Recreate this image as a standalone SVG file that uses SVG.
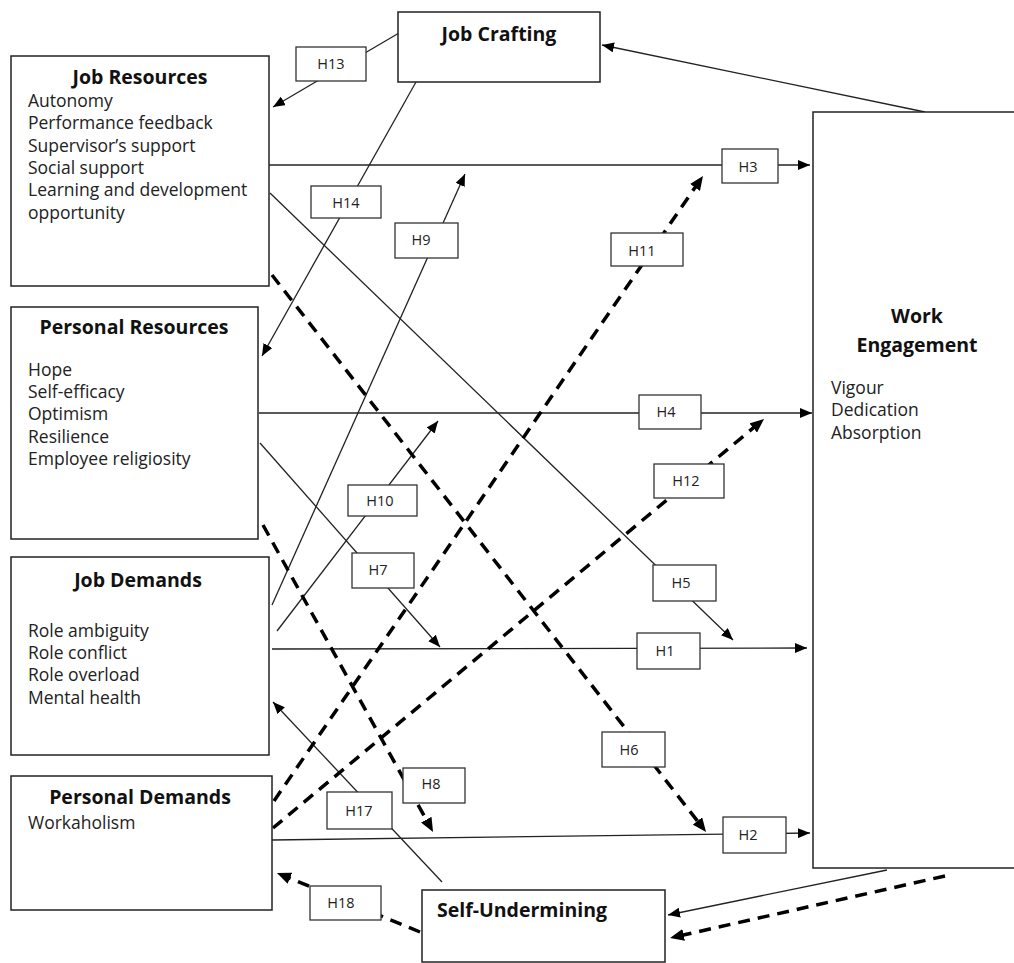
<svg xmlns="http://www.w3.org/2000/svg" width="1014" height="963" viewBox="0 0 1014 963">
<defs>
<marker id="ah" markerUnits="userSpaceOnUse" markerWidth="12" markerHeight="10" refX="12" refY="5" orient="auto"><path d="M0,0 L12,5 L0,10 z" fill="#000"/></marker>
<marker id="ahd" markerUnits="userSpaceOnUse" markerWidth="14" markerHeight="12" refX="4" refY="6" orient="auto"><path d="M0,0 L14,6 L0,12 z" fill="#000"/></marker>
<style>
.box{fill:#fff;stroke:#222;stroke-width:1.5}
.lbl{fill:#fff;stroke:#333;stroke-width:1.3}
.s{fill:none;stroke:#222;stroke-width:1.3;marker-end:url(#ah)}
.d{fill:none;stroke:#000;stroke-width:3.5;stroke-dasharray:12 8;marker-end:url(#ahd)}
.t{font-family:"Open Sans","Liberation Sans",sans-serif;font-size:17.5px;fill:#222}
.h{font-family:"Open Sans","Liberation Sans",sans-serif;font-size:19.5px;font-weight:bold;fill:#111}
.l{font-family:"Open Sans","Liberation Sans",sans-serif;font-size:14.5px;fill:#222;text-anchor:middle}
</style>
</defs>
<rect width="1014" height="963" fill="#fff"/>
<g id="connectors">
<line class="s" x1="399" y1="33" x2="273" y2="107"/>
<line class="s" x1="925" y1="112" x2="602" y2="45"/>
<line class="s" x1="416" y1="82" x2="262" y2="356"/>
<line class="s" x1="269" y1="165" x2="810" y2="165"/>
<line class="s" x1="270" y1="193" x2="733" y2="640"/>
<line class="s" x1="272" y1="605" x2="465" y2="174"/>
<line class="s" x1="277" y1="631" x2="438" y2="421"/>
<line class="s" x1="259" y1="413" x2="812" y2="413"/>
<line class="s" x1="260" y1="443" x2="440" y2="647"/>
<line class="s" x1="272" y1="649" x2="807" y2="648"/>
<line class="s" x1="272" y1="840" x2="810" y2="833"/>
<line class="s" x1="442" y1="882" x2="273" y2="702"/>
<line class="s" x1="887" y1="870" x2="668" y2="915"/>
<line class="d" x1="272" y1="275" x2="699.9" y2="824.1"/>
<line class="d" x1="263" y1="525" x2="428.2" y2="823.2"/>
<line class="d" x1="274" y1="801" x2="697.3" y2="184.2"/>
<line class="d" x1="273" y1="828" x2="756.3" y2="425.4"/>
<line class="d" x1="420" y1="932" x2="286.2" y2="876.8"/>
<line class="d" x1="945" y1="876" x2="679.8" y2="935.8"/>
</g>
<g id="labels">
<g id="lH13"><rect class="lbl" x="296" y="47" width="70" height="34"/><text class="l" x="331" y="69">H13</text></g>
<g id="lH14"><rect class="lbl" x="311" y="186" width="70" height="32"/><text class="l" x="346" y="208">H14</text></g>
<g id="lH9"><rect class="lbl" x="395" y="223" width="63" height="35"/><text class="l" x="421" y="245">H9</text></g>
<g id="lH11"><rect class="lbl" x="611" y="233" width="72" height="33"/><text class="l" x="642" y="256">H11</text></g>
<g id="lH3"><rect class="lbl" x="722" y="149" width="56" height="34"/><text class="l" x="748" y="172">H3</text></g>
<g id="lH4"><rect class="lbl" x="639" y="395" width="62" height="34"/><text class="l" x="666" y="417">H4</text></g>
<g id="lH12"><rect class="lbl" x="654" y="464" width="70" height="34"/><text class="l" x="686" y="486">H12</text></g>
<g id="lH10"><rect class="lbl" x="348" y="485" width="69" height="31"/><text class="l" x="380" y="506">H10</text></g>
<g id="lH7"><rect class="lbl" x="352" y="553" width="62" height="35"/><text class="l" x="378" y="575">H7</text></g>
<g id="lH5"><rect class="lbl" x="653" y="565" width="63" height="36"/><text class="l" x="681" y="588">H5</text></g>
<g id="lH1"><rect class="lbl" x="637" y="633" width="63" height="36"/><text class="l" x="665" y="656">H1</text></g>
<g id="lH6"><rect class="lbl" x="602" y="732" width="63" height="35"/><text class="l" x="629" y="755">H6</text></g>
<g id="lH8"><rect class="lbl" x="403" y="768" width="62" height="35"/><text class="l" x="431" y="789">H8</text></g>
<g id="lH17"><rect class="lbl" x="327" y="792" width="65" height="37"/><text class="l" x="359" y="816">H17</text></g>
<g id="lH2"><rect class="lbl" x="723" y="817" width="63" height="36"/><text class="l" x="748" y="840">H2</text></g>
<g id="lH18"><rect class="lbl" x="310" y="886" width="71" height="34"/><text class="l" x="341" y="908">H18</text></g>
</g>
<g id="jobCrafting"><rect class="box" x="398" y="12" width="202" height="70"/><text class="h" x="499" y="41" text-anchor="middle">Job Crafting</text></g>
<g id="jobResources"><rect class="box" x="11" y="56" width="258" height="230"/>
<text class="h" x="140" y="84" text-anchor="middle">Job Resources</text>
<text class="t" x="28" y="107">Autonomy</text>
<text class="t" x="28" y="129">Performance feedback</text>
<text class="t" x="28" y="152">Supervisor’s support</text>
<text class="t" x="28" y="174">Social support</text>
<text class="t" x="28" y="196">Learning and development</text>
<text class="t" x="28" y="219">opportunity</text>
</g>
<g id="personalResources"><rect class="box" x="11" y="307" width="247" height="232"/>
<text class="h" x="134" y="334" text-anchor="middle">Personal Resources</text>
<text class="t" x="28" y="376">Hope</text>
<text class="t" x="28" y="398">Self-efficacy</text>
<text class="t" x="28" y="420">Optimism</text>
<text class="t" x="28" y="443">Resilience</text>
<text class="t" x="28" y="465">Employee religiosity</text>
</g>
<g id="jobDemands"><rect class="box" x="11" y="557" width="258" height="198"/>
<text class="h" x="138" y="587" text-anchor="middle">Job Demands</text>
<text class="t" x="28" y="637">Role ambiguity</text>
<text class="t" x="28" y="659">Role conflict</text>
<text class="t" x="28" y="681">Role overload</text>
<text class="t" x="28" y="704">Mental health</text>
</g>
<g id="personalDemands"><rect class="box" x="11" y="776" width="261" height="134"/>
<text class="h" x="140" y="804" text-anchor="middle">Personal Demands</text>
<text class="t" x="28" y="829">Workaholism</text>
</g>
<g id="selfUndermining"><rect class="box" x="422" y="890" width="243" height="72"/>
<text class="h" x="437" y="917">Self-Undermining</text>
</g>
<g id="workEngagement"><rect class="box" x="813" y="112" width="204" height="756"/>
<text class="h" x="917" y="323" text-anchor="middle">Work</text>
<text class="h" x="917" y="352" text-anchor="middle">Engagement</text>
<text class="t" x="831" y="394">Vigour</text>
<text class="t" x="831" y="416">Dedication</text>
<text class="t" x="831" y="439">Absorption</text>
</g>
</svg>
